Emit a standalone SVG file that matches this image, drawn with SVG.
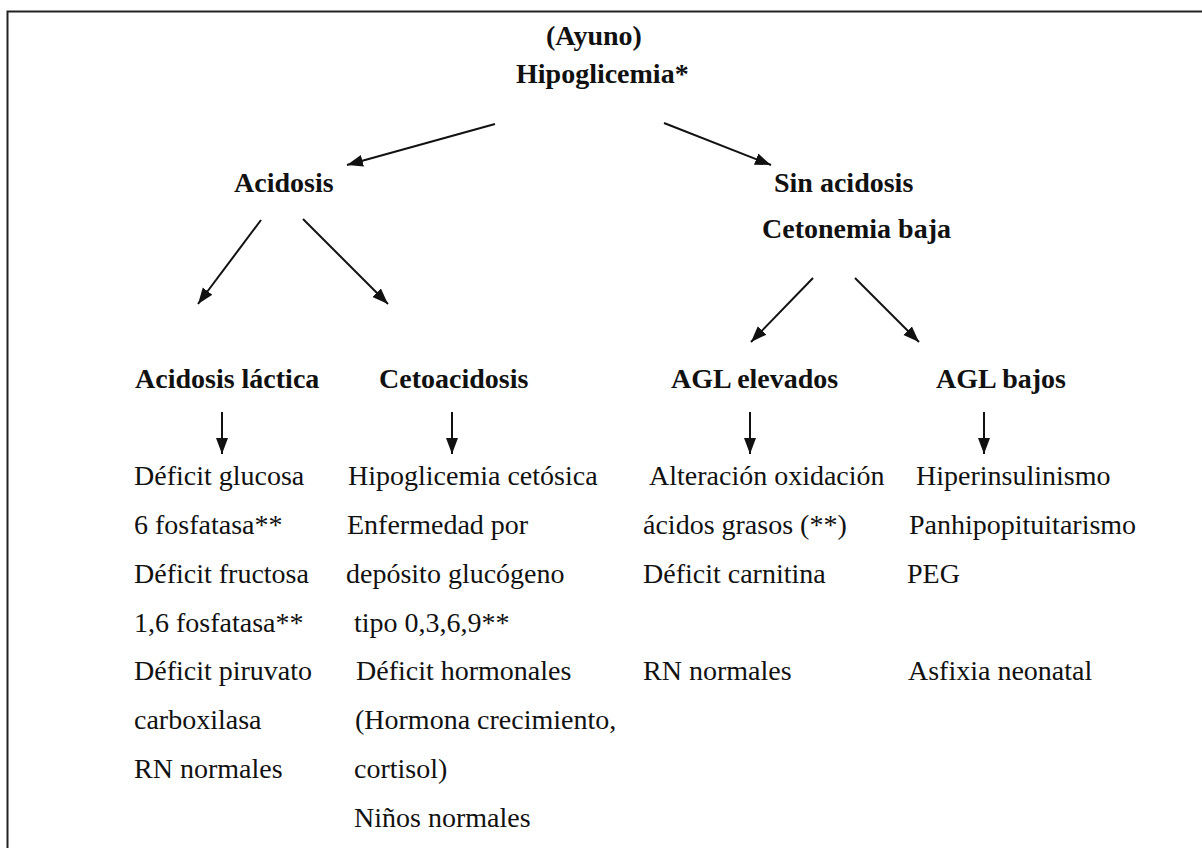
<svg xmlns="http://www.w3.org/2000/svg" width="1202" height="848" viewBox="0 0 1202 848">
<style>
text{font-family:"Liberation Serif","Tinos","Times New Roman","Nimbus Roman","FreeSerif","DejaVu Serif",serif;font-size:28px;font-weight:400;font-style:normal;fill:#111}
text.b{font-weight:700}
.c{stroke:#111;stroke-width:2;fill:none;marker-end:url(#ah)}
</style>
<defs>
<marker id="ah" markerUnits="userSpaceOnUse" markerWidth="18" markerHeight="14" refX="16" refY="6" orient="auto" viewBox="0 0 18 12">
<path d="M0,0 L16,6 L0,12 z" fill="#111"/>
</marker>
</defs>
<rect width="1202" height="848" fill="#fff"/>
<path d="M7.5,848 V11.5 H1202" fill="none" stroke="#222" stroke-width="2"/>
<g id="connectors">
<line class="c" x1="495" y1="124" x2="347" y2="165"/>
<line class="c" x1="664" y1="123" x2="771" y2="165"/>
<line class="c" x1="261" y1="220" x2="198" y2="304"/>
<line class="c" x1="303" y1="219" x2="388" y2="304"/>
<line class="c" x1="813" y1="278" x2="751" y2="342"/>
<line class="c" x1="855" y1="278" x2="919" y2="342"/>
<line class="c" x1="222" y1="412" x2="222" y2="454"/>
<line class="c" x1="452" y1="412" x2="452" y2="454"/>
<line class="c" x1="750" y1="412" x2="750" y2="454"/>
<line class="c" x1="984" y1="412" x2="984" y2="454"/>
</g>
<g id="root">
<text class="b" x="546" y="45">(Ayuno)</text>
<text class="b" x="516" y="83">Hipoglicemia*</text>
</g>
<g id="acidosis"><text class="b" x="234" y="192">Acidosis</text></g>
<g id="sin-acidosis">
<text class="b" x="774" y="192">Sin acidosis</text>
<text class="b" x="762" y="238">Cetonemia baja</text>
</g>
<g id="acidosis-lactica"><text class="b" x="135" y="388">Acidosis láctica</text></g>
<g id="cetoacidosis"><text class="b" x="379" y="388">Cetoacidosis</text></g>
<g id="agl-elevados"><text class="b" x="671" y="388">AGL elevados</text></g>
<g id="agl-bajos"><text class="b" x="936" y="388">AGL bajos</text></g>
<g id="list-lactica">
<text x="134" y="485">Déficit glucosa</text>
<text x="134" y="534">6 fosfatasa**</text>
<text x="134" y="583">Déficit fructosa</text>
<text x="134" y="632">1,6 fosfatasa**</text>
<text x="134" y="680">Déficit piruvato</text>
<text x="134" y="729">carboxilasa</text>
<text x="134" y="778">RN normales</text>
</g>
<g id="list-ceto">
<text x="348" y="485">Hipoglicemia cetósica</text>
<text x="347" y="534">Enfermedad por</text>
<text x="346" y="583">depósito glucógeno</text>
<text x="354" y="632">tipo 0,3,6,9**</text>
<text x="356" y="680">Déficit hormonales</text>
<text x="355" y="729">(Hormona crecimiento,</text>
<text x="354" y="778">cortisol)</text>
<text x="354" y="827">Niños normales</text>
</g>
<g id="list-elevados">
<text x="649" y="485">Alteración oxidación</text>
<text x="643" y="534">ácidos grasos (**)</text>
<text x="643" y="583">Déficit carnitina</text>
<text x="643" y="680">RN normales</text>
</g>
<g id="list-bajos">
<text x="916" y="485">Hiperinsulinismo</text>
<text x="909" y="534">Panhipopituitarismo</text>
<text x="907" y="583">PEG</text>
<text x="908" y="680">Asfixia neonatal</text>
</g>
</svg>
